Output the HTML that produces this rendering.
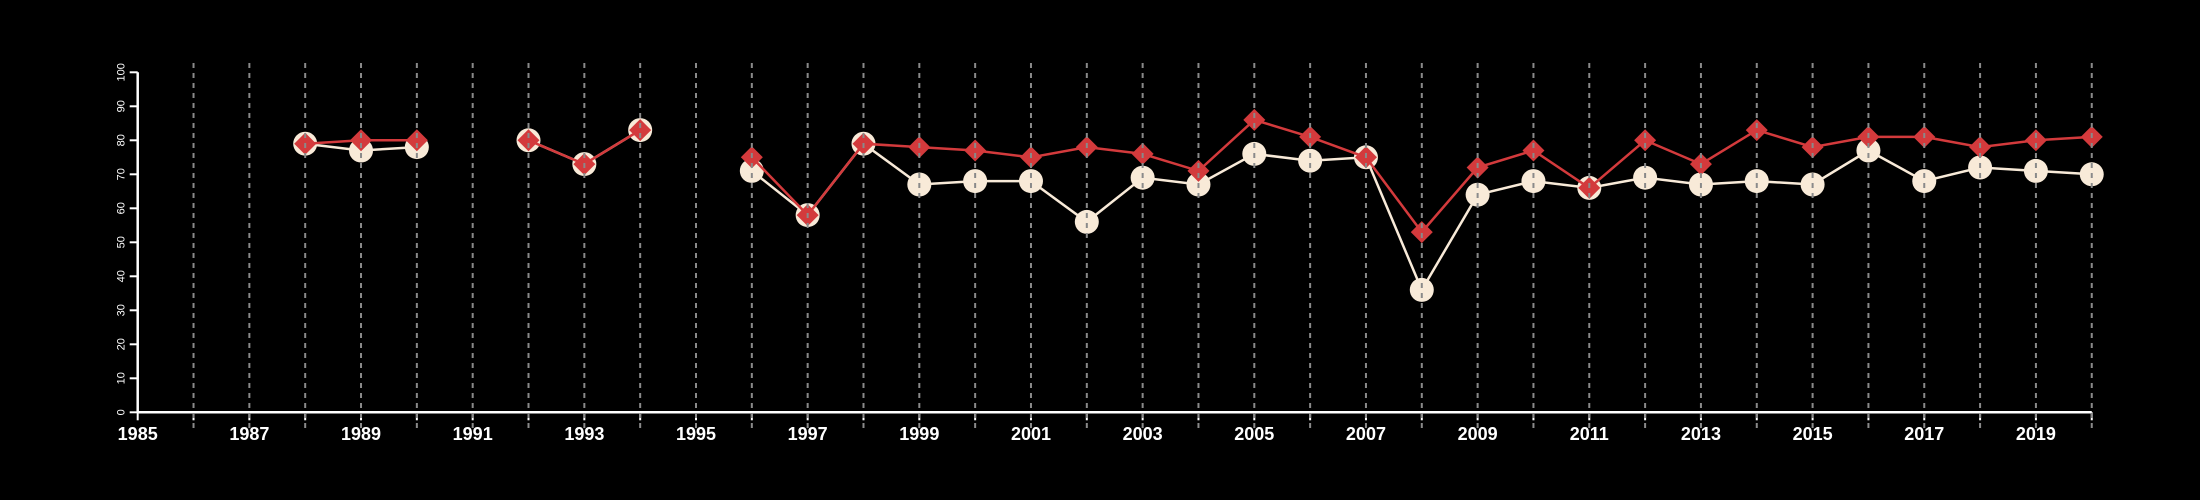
<!DOCTYPE html>
<html><head><meta charset="utf-8"><style>
html,body{margin:0;padding:0;background:#000;width:2200px;height:500px;overflow:hidden}
svg text{font-family:"Liberation Sans",sans-serif;fill:#fff}
</style></head><body>
<svg id="chart" width="2200" height="500" xmlns="http://www.w3.org/2000/svg"></svg>
<script>
const years=[1988,1989,1990,1991,1992,1993,1994,1995,1996,1997,1998,1999,2000,2001,2002,2003,2004,2005,2006,2007,2008,2009,2010,2011,2012,2013,2014,2015,2016,2017,2018,2019,2020];
const seriesA=[79,77,78,null,80,73,83,null,71,58,79,67,68,68,56,69,67,76,74,75,36,64,68,66,69,67,68,67,77,68,72,71,70];
const seriesB=[79,80,80,null,80,73,83,null,75,58,79,78,77,75,78,76,71,86,81,75,53,72,77,66,80,73,83,78,81,81,78,80,81];
const yTicks=[0,10,20,30,40,50,60,70,80,90,100];
const xLabels=[1985,1987,1989,1991,1993,1995,1997,1999,2001,2003,2005,2007,2009,2011,2013,2015,2017,2019];
const svg=document.getElementById('chart');const NS='http://www.w3.org/2000/svg';
const X=v=>137.7+(v-1985)*55.83; const Y=v=>412.3-v*3.4;
function mk(t,a,p){const e=document.createElementNS(NS,t);for(const k in a)e.setAttribute(k,a[k]);(p||svg).appendChild(e);return e;}
const axes=mk('g',{});


mk('line',{x1:X(1985),x2:X(2020),y1:Y(0),y2:Y(0),stroke:'#fff','stroke-width':2.5},axes);
mk('line',{x1:X(1985),x2:X(1985),y1:Y(0),y2:Y(100),stroke:'#fff','stroke-width':2.5},axes);
yTicks.forEach(v=>{mk('line',{x1:X(1985)-8,x2:X(1985),y1:Y(v),y2:Y(v),stroke:'#fff','stroke-width':2},axes);
 const t=mk('text',{x:0,y:0,'font-size':11,'text-anchor':'middle',transform:`translate(${X(1985)-16},${Y(v)}) rotate(-90)`,'dominant-baseline':'middle'},axes);t.textContent=v;
 
 });
for(let yr=1985;yr<=2020;yr++){mk('line',{x1:X(yr),x2:X(yr),y1:Y(0),y2:Y(0)+8,stroke:'#fff','stroke-width':2},axes);}
xLabels.forEach(v=>{const t=mk('text',{x:X(v),y:440,'font-size':18,'font-weight':'bold','text-anchor':'middle'},axes);t.textContent=v;
 
 });
function drawSeries(vals,color,name){const g=mk('g',{});
 
 
 let seg=[];const flush=()=>{if(seg.length>1)mk('polyline',{points:seg.join(' '),fill:'none',stroke:color,'stroke-width':2.5},g);seg=[];};
 vals.forEach((v,i)=>{if(v==null){flush();}else seg.push(X(years[i])+','+Y(v));});flush();return g;}
const gA=drawSeries(seriesA,'#f8ead8','series-a');
const gB=drawSeries(seriesB,'#d33a3c','series-b');
seriesA.forEach((v,i)=>{if(v==null)return;const c=mk('circle',{cx:X(years[i]),cy:Y(v),r:12,fill:'#f8ead8'},gA);
 
 });
seriesB.forEach((v,i)=>{if(v==null)return;const x=X(years[i]),y=Y(v),s=11;const p=mk('polygon',{points:`${x},${y-s} ${x+s},${y} ${x},${y+s} ${x-s},${y}`,fill:'#d33a3c'},gB);
 
 });
svg.appendChild(gB);
const grid=mk('g',{});


for(let yr=1986;yr<=2020;yr++){mk('line',{x1:X(yr),x2:X(yr),y1:63,y2:428,stroke:'#8a8a8a','stroke-width':2,'stroke-dasharray':'5,5'},grid);}
</script>
</body></html>
